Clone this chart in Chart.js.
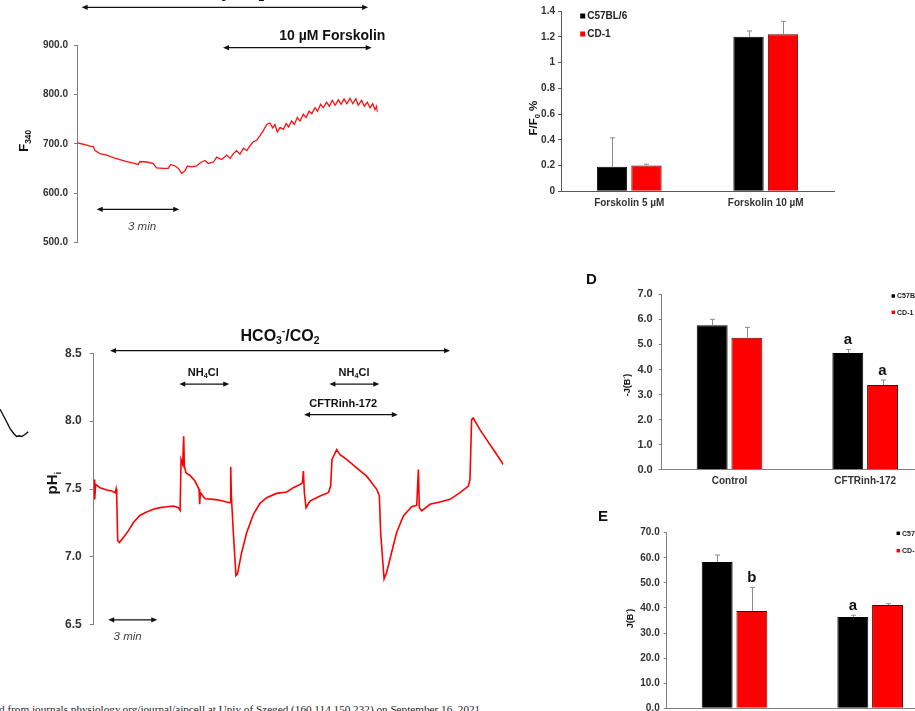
<!DOCTYPE html>
<html><head><meta charset="utf-8">
<script src="https://cdn.jsdelivr.net/npm/chart.js@4.4.1/dist/chart.umd.min.js"></script>
<style>
html,body{margin:0;padding:0;background:#fff;width:915px;height:711px;overflow:hidden;position:relative}
canvas{position:absolute}
.pl{position:absolute;font:bold 15px "Liberation Sans",Arial,sans-serif;color:#111;line-height:15px}
#foot{position:absolute;right:432px;top:703px;white-space:nowrap;font:11.2px "Liberation Serif","Times New Roman",serif;color:#222;line-height:12px}
</style></head><body>
<canvas id="cA" width="420" height="260" style="left:0;top:0"></canvas>
<canvas id="cB" width="415" height="220" style="left:500px;top:0"></canvas>
<canvas id="cF" width="40" height="340" style="left:0;top:300px"></canvas>
<canvas id="cC" width="560" height="340" style="left:0;top:300px"></canvas>
<canvas id="cD" width="400" height="230" style="left:560px;top:270px"></canvas>
<canvas id="cE" width="380" height="250" style="left:580px;top:500px"></canvas>
<div class="pl" style="left:586px;top:271px">D</div>
<div class="pl" style="left:598px;top:508px">E</div>
<div id="foot">Downloaded from journals.physiology.org/journal/ajpcell at Univ of Szeged (160.114.150.232) on September 16, 2021.</div>
<script>
// ---------- DATA ----------
// Panel A: F340 trace, time in minutes
const timeA = [0,0.23,0.48,0.6,0.66,0.84,1.09,1.33,1.57,1.82,2.06,2.24,2.3,2.55,2.79,2.91,3.16,3.34,3.43,3.59,3.71,3.83,3.95,4.04,4.2,4.38,4.5,4.68,4.8,4.99,5.11,5.29,5.48,5.6,5.72,5.84,5.96,6.09,6.21,6.33,6.45,6.57,6.7,6.82,6.94,7.06,7.16,7.24,7.33,7.43,7.55,7.65,7.74,7.85,7.95,8.06,8.16,8.28,8.38,8.49,8.59,8.71,8.8,8.91,9.01,9.13,9.23,9.34,9.44,9.56,9.66,9.77,9.87,9.99,10.09,10.2,10.29,10.41,10.51,10.62,10.72,10.82,10.9,10.96,10.99];
const f340 = [702,699,695,694,686,680,677,672,668,664,661,658,664,663,660,651,650,650,658,655,650,640,645,655,653,655,661,666,660,663,673,668,677,670,680,686,679,691,686,696,704,707,717,727,739,742,732,739,724,733,729,741,734,746,739,753,746,760,753,766,761,773,766,780,773,784,776,788,778,789,780,791,781,792,781,791,778,788,776,784,773,781,769,776,764];
const ticksA = [500,600,700,800,900];

// Panel B: F/F0 %
const catsB = ['Forskolin 5 µM','Forskolin 10 µM'];
const strains = ['C57BL/6','CD-1'];
const bC57 = [0.19,1.20];
const bC57err = [0.225,0.045];
const bCD1 = [0.20,1.22];
const bCD1err = [0.01,0.10];

// Panel C: pHi trace, time in minutes
const timeC = [0.02,0.06,0.12,0.39,0.8,1.1,1.31,1.37,1.41,1.47,1.57,1.82,2.12,2.43,2.84,3.24,3.65,4.06,4.47,4.88,5.18,5.29,5.35,5.45,5.51,5.55,5.65,5.9,6.2,6.45,6.49,6.53,6.82,7.33,7.73,8.14,8.35,8.39,8.43,8.55,8.71,8.8,9.06,9.37,9.78,10.18,10.59,11.2,11.82,12.22,12.63,12.78,12.84,12.9,13.0,13.24,13.86,14.37,14.51,14.59,14.88,15.08,15.49,16.1,16.71,17.33,17.49,17.57,17.78,17.94,18.24,18.55,18.96,19.47,19.78,19.88,19.94,20.08,20.59,21.2,21.82,22.43,22.94,23.04,23.14,23.24,23.65,24.06,24.47,24.88,25.08];
const phC = [7.571,7.424,7.534,7.51,7.493,7.485,7.473,7.502,7.449,7.119,7.106,7.143,7.192,7.253,7.307,7.331,7.351,7.363,7.37,7.375,7.363,7.343,7.718,7.681,7.889,7.669,7.62,7.6,7.559,7.498,7.388,7.473,7.429,7.424,7.417,7.405,7.4,7.664,7.449,7.18,6.862,6.874,7.033,7.18,7.314,7.395,7.436,7.468,7.478,7.51,7.534,7.546,7.632,7.473,7.363,7.412,7.449,7.473,7.522,7.718,7.791,7.754,7.718,7.656,7.595,7.498,7.449,7.18,6.838,6.887,7.033,7.18,7.302,7.37,7.38,7.644,7.363,7.339,7.388,7.405,7.424,7.473,7.522,7.571,8.011,8.023,7.938,7.864,7.791,7.718,7.681];
const ticksC = [6.5,7.0,7.5,8.0,8.5];
// neighbouring (cropped) black trace
const timeFrag = [0,0.31,0.61,0.85,1.02,1.16,1.33,1.53,1.73];
const phFrag = [8.09,8.02,7.95,7.91,7.89,7.895,7.89,7.905,7.925];

// Panel D: -J(B-)
const catsD = ['Control','CFTRinh-172'];
const dC57 = [5.76,4.66];
const dC57err = [0.24,0.14];
const dCD1 = [5.27,3.38];
const dCD1err = [0.41,0.20];
const sigDC57 = ['','a'];
const sigDCD1 = ['','a'];

// Panel E: J(B-)
const catsE = ['Control','CFTRinh-172'];
const eC57 = [58.3,36.4];
const eC57err = [2.8,0.7];
const eCD1 = [38.8,41.2];
const eCD1err = [9.4,0.5];
const sigEC57 = ['','a'];
const sigECD1 = ['b',''];

// ---------- DRAWING ----------
const FAM = '"Liberation Sans", Arial, Helvetica, sans-serif';
Chart.defaults.font.family = FAM;
Chart.defaults.animation = false;
Chart.defaults.events = [];
Chart.defaults.plugins.legend.display = false;
Chart.defaults.plugins.tooltip.enabled = false;
Chart.defaults.color = '#333';

function fontStr(size, weight, style){ return (style||'normal')+' '+(weight||'bold')+' '+size+'px '+FAM; }
function drawRich(ctx, parts, x, y, o){
  const size=o.size, w8=o.weight||'bold', st=o.style||'normal';
  let total=0;
  const items=parts.map(p=>{const s=p[1]?size*0.65:size; ctx.font=fontStr(s,w8,st); const w=ctx.measureText(p[0]).width; total+=w; return {t:p[0],k:p[1],s:s,w:w};});
  let cx = o.align==='left'?x:(o.align==='right'?x-total:x-total/2);
  const base=y+0.36*size;
  ctx.fillStyle=o.color||'#111'; ctx.textAlign='left'; ctx.textBaseline='alphabetic';
  items.forEach(it=>{ctx.font=fontStr(it.s,w8,st); const by=it.k==='sub'?base+0.22*size:(it.k==='sup'?base-0.42*size:base); ctx.fillText(it.t,cx,by); cx+=it.w;});
}
function drawArrow(ctx,x1,x2,y){
  const h=6,hw=2.6;
  ctx.save(); ctx.strokeStyle='#111'; ctx.fillStyle='#111'; ctx.lineWidth=1.3;
  ctx.beginPath(); ctx.moveTo(x1+h-1,y); ctx.lineTo(x2-h+1,y); ctx.stroke();
  ctx.beginPath(); ctx.moveTo(x1,y); ctx.lineTo(x1+h,y-hw); ctx.lineTo(x1+h,y+hw); ctx.closePath(); ctx.fill();
  ctx.beginPath(); ctx.moveTo(x2,y); ctx.lineTo(x2-h,y-hw); ctx.lineTo(x2-h,y+hw); ctx.closePath(); ctx.fill();
  ctx.restore();
}
const decor = {
  id:'decor',
  afterDraw(chart,args,o){
    const ctx=chart.ctx, ca=chart.chartArea, xs=chart.scales.x, ys=chart.scales.y;
    ctx.save();
    (o.errors||[]).forEach((errs,di)=>{
      const meta=chart.getDatasetMeta(di);
      meta.data.forEach((bar,j)=>{
        const v=chart.data.datasets[di].data[j];
        const top=ys.getPixelForValue(v+errs[j]);
        const bx=Math.round(bar.x)+0.5;
        ctx.strokeStyle=o.errColor||'#8c8c8c'; ctx.lineWidth=1;
        ctx.beginPath(); ctx.moveTo(bx,bar.y); ctx.lineTo(bx,top); ctx.moveTo(bx-2.5,top); ctx.lineTo(bx+2.5,top); ctx.stroke();
        const letter=o.sig&&o.sig[di]&&o.sig[di][j];
        if(letter){ctx.fillStyle='#111'; ctx.font=fontStr(15,'bold'); ctx.textAlign='center'; ctx.textBaseline='alphabetic'; ctx.fillText(letter,bar.x,top-5);}
      });
    });
    if(o.legend){const L=o.legend; chart.data.datasets.forEach((ds,i)=>{const y=ca.top+L.dy+i*L.gap, x=ca.left+L.dx; ctx.fillStyle=ds.backgroundColor; ctx.fillRect(x-L.sq/2,y-L.sq/2,L.sq,L.sq); ctx.fillStyle='#222'; ctx.font=fontStr(L.size,'bold'); ctx.textAlign='left'; ctx.textBaseline='middle'; ctx.fillText(ds.label,x+L.sq/2+2,y+0.5);});}
    if(o.title){const T=o.title; ctx.save(); ctx.translate(ca.left-T.dx,(ca.top+ca.bottom)/2+T.dy); ctx.rotate(-Math.PI/2); drawRich(ctx,T.parts,0,0,{size:T.size}); ctx.restore();}
    (o.arrows||[]).forEach(a=>drawArrow(ctx,xs.getPixelForValue(a.x1),xs.getPixelForValue(a.x2),ys.getPixelForValue(a.y)));
    (o.texts||[]).forEach(t=>drawRich(ctx,t.parts,xs.getPixelForValue(t.x),ys.getPixelForValue(t.y),t));
    ctx.restore();
  }
};

function fmt(v,dec){ return dec===null ? String(Number(Number(v).toFixed(3))) : Number(v).toFixed(dec); }
function yAxis(min,max,step,dec,size,w,tl,pad,col){
  return {min:min,max:max,
    ticks:{stepSize:step,callback:v=>fmt(v,dec),font:{size:size,weight:'bold'},color:'#333',padding:pad},
    grid:{drawOnChartArea:false,drawTicks:true,tickLength:tl,color:col},
    border:{display:true,color:col,width:1},
    afterFit(s){s.width=w;}};
}
function xCat(h,pad,col){
  return {grid:{display:false,drawTicks:false},border:{display:true,color:col,width:1},
    ticks:{font:{size:10,weight:'bold'},color:'#333',padding:pad,maxRotation:0},
    afterFit(s){s.height=h;}};
}
function pts(xs,ys){return xs.map((x,i)=>({x:x,y:ys[i]}));}

// Panel A
new Chart(document.getElementById('cA'),{
  type:'line',
  data:{datasets:[{data:pts(timeA,f340),borderColor:'#ff1010',borderWidth:1.3,pointRadius:0,tension:0}]},
  options:{responsive:false,
    layout:{padding:{top:45,bottom:17.5,left:0,right:42.3}},
    scales:{x:{type:'linear',min:0,max:11,display:false},
      y:yAxis(ticksA[0],ticksA[ticksA.length-1],100,1,10,77,3,6,'#808080')},
    plugins:{decor:{
      title:{parts:[['F',''],['340','sub']],size:13,dx:54,dy:-3},
      arrows:[{x1:0.17,x2:10.65,y:976.4},{x1:5.34,x2:10.78,y:894.5},{x1:0.72,x2:3.74,y:567.2}],
      texts:[{x:5.41,y:1008,parts:[['HCO',''],['3','sub'],['-','sup'],['/CO',''],['2','sub']],size:16},
             {x:9.34,y:920.3,parts:[['10 µM Forskolin','']],size:14},
             {x:2.38,y:533.4,parts:[['3 min','']],size:11.5,style:'italic',weight:'normal',color:'#444'}]
    }}},
  plugins:[decor]
});

// Panel B
new Chart(document.getElementById('cB'),{
  type:'bar',
  data:{labels:catsB,datasets:[
    {label:strains[0],data:bC57,backgroundColor:'#000000',borderColor:'#000000',borderWidth:1},
    {label:strains[1],data:bCD1,backgroundColor:'#ff0000',borderColor:'#5a0000',borderWidth:1}]},
  options:{responsive:false,
    datasets:{bar:{categoryPercentage:0.505,barPercentage:0.88}},
    layout:{padding:{top:11,bottom:0,left:0,right:81}},
    scales:{x:xCat(28.7,5.7,'#595959'),y:yAxis(0,1.4,0.2,null,10,61,3,3,'#595959')},
    plugins:{decor:{
      errors:[bC57err,bCD1err],
      legend:{dx:21.7,dy:5,gap:18,sq:5,size:10},
      title:{parts:[['F/F',''],['0','sub'],[' %','']],size:11.5,dx:28,dy:17}
    }}},
  plugins:[decor]
});

// cropped neighbouring trace
new Chart(document.getElementById('cF'),{
  type:'line',
  data:{datasets:[{data:pts(timeFrag,phFrag),borderColor:'#000',borderWidth:1.3,pointRadius:0,tension:0}]},
  options:{responsive:false,layout:{padding:{top:53.3,bottom:14,left:0,right:0}},
    scales:{x:{type:'linear',min:0,max:2.45,display:false},y:{min:6.5,max:8.5,display:false}}}
});

// Panel C
new Chart(document.getElementById('cC'),{
  type:'line',
  data:{datasets:[{data:pts(timeC,phC),borderColor:'#ff0000',borderWidth:1.6,pointRadius:0,tension:0}]},
  options:{responsive:false,
    layout:{padding:{top:53.3,bottom:14,left:0,right:56.7}},
    scales:{x:{type:'linear',min:0,max:25.08,display:false},
      y:yAxis(ticksC[0],ticksC[ticksC.length-1],0.5,1,12,93.7,4,8,'#808080')},
    plugins:{decor:{
      title:{parts:[['pH',''],['i','sub']],size:15,dx:41.7,dy:-6},
      arrows:[{x1:1.0,x2:21.82,y:8.519},{x1:5.24,x2:8.30,y:8.273},{x1:14.43,x2:17.49,y:8.273},{x1:12.88,x2:18.62,y:8.048},{x1:0.89,x2:3.89,y:6.537}],
      texts:[{x:11.41,y:8.634,parts:[['HCO',''],['3','sub'],['-','sup'],['/CO',''],['2','sub']],size:16},
             {x:6.71,y:8.365,parts:[['NH',''],['4','sub'],['Cl','']],size:11},
             {x:15.94,y:8.365,parts:[['NH',''],['4','sub'],['Cl','']],size:11},
             {x:15.28,y:8.133,parts:[['CFTRinh-172','']],size:11},
             {x:2.08,y:6.422,parts:[['3 min','']],size:11.5,style:'italic',weight:'normal',color:'#444'}]
    }}},
  plugins:[decor]
});

// Panel D
new Chart(document.getElementById('cD'),{
  type:'bar',
  data:{labels:catsD,datasets:[
    {label:strains[0],data:dC57,backgroundColor:'#000000',borderColor:'#000000',borderWidth:1},
    {label:strains[1],data:dCD1,backgroundColor:'#ff0000',borderColor:'#5a0000',borderWidth:1}]},
  options:{responsive:false,
    datasets:{bar:{categoryPercentage:0.512,barPercentage:0.89}},
    layout:{padding:{top:24.3,bottom:0,left:0,right:27}},
    scales:{x:xCat(30.3,6,'#808080'),y:yAxis(0,7,1,1,11,101.7,3,6,'#808080')},
    plugins:{decor:{
      errors:[dC57err,dCD1err],sig:[sigDC57,sigDCD1],
      legend:{dx:231.6,dy:1.7,gap:16.3,sq:3.5,size:7},
      title:{parts:[['-J(B',''],['-','sup'],[')','']],size:9,dx:35,dy:3}
    }}},
  plugins:[decor]
});

// Panel E
new Chart(document.getElementById('cE'),{
  type:'bar',
  data:{labels:catsE,datasets:[
    {label:strains[0],data:eC57,backgroundColor:'#000000',borderColor:'#000000',borderWidth:1},
    {label:strains[1],data:eCD1,backgroundColor:'#ff0000',borderColor:'#5a0000',borderWidth:1}]},
  options:{responsive:false,
    datasets:{bar:{categoryPercentage:0.512,barPercentage:0.89}},
    layout:{padding:{top:32.7,bottom:0,left:0,right:22}},
    scales:{x:xCat(41.7,6,'#808080'),y:yAxis(0,70,10,1,10,86.7,3,4,'#808080')},
    plugins:{decor:{
      errors:[eC57err,eCD1err],sig:[sigEC57,sigECD1],
      legend:{dx:231.6,dy:0.6,gap:17.4,sq:3.5,size:7},
      title:{parts:[['J(B',''],['-','sup'],[')','']],size:9,dx:37,dy:-2}
    }}},
  plugins:[decor]
});
</script>
</body></html>
